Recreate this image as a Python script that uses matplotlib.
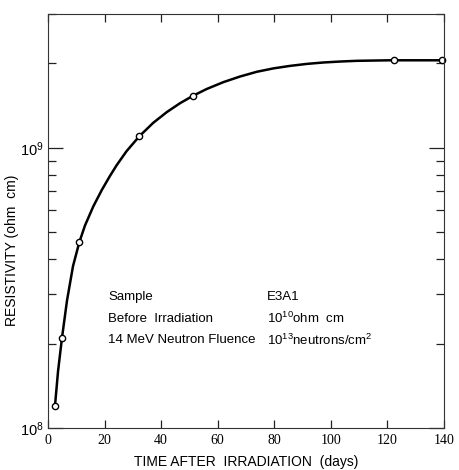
"""Resistivity recovery after 14 MeV neutron irradiation (sample E3A1)."""

import matplotlib

matplotlib.use("Agg")
import matplotlib.pyplot as plt
import numpy as np
from matplotlib import ticker

# measured points (open circles)
days = [2.47, 4.95, 11.07, 32.3, 51.2, 122.3, 139.3]
resistivity = [1.20e8, 2.10e8, 4.60e8, 1.10e9, 1.53e9, 2.05e9, 2.05e9]

# hand-drawn curve
curve_days = [2.47, 3.54, 4.95, 6.72, 8.84, 11.07, 13.08, 16.0, 19.0, 21.9,
              24.3, 27.8, 32.3, 37.2, 42.0, 46.7, 51.2, 56.1, 62.0, 67.9,
              73.8, 79.7, 85.6, 91.5, 97.3, 103.2, 109.1, 120.9, 122.3, 139.3]
curve_res = [1.20e8, 1.59e8, 2.10e8, 2.85e8, 3.78e8, 4.60e8, 5.28e8, 6.17e8,
             7.06e8, 7.93e8, 8.67e8, 9.73e8, 1.099e9, 1.227e9, 1.340e9,
             1.442e9, 1.531e9, 1.620e9, 1.714e9, 1.795e9, 1.866e9, 1.919e9,
             1.959e9, 1.991e9, 2.014e9, 2.030e9, 2.042e9, 2.051e9, 2.051e9,
             2.051e9]

x_ticks = [0, 20, 40, 60, 80, 100, 120, 140]
notes_left = ["Sample", "Before  Irradiation", "14 MeV Neutron Fluence"]
notes_right = ["E3A1", r"$\mathregular{10^{10}}$ohm  cm",
               r"$\mathregular{10^{13}}$neutrons/cm$\mathregular{^{2}}$"]

sans = ["Liberation Sans Narrow", "Liberation Sans", "DejaVu Sans"]
serif = ["Liberation Serif", "DejaVu Serif"]

fig = plt.figure(figsize=(4.6, 4.7), dpi=100)
ax = fig.add_axes([48 / 460, 42 / 470, 396 / 460, 414 / 470])

ax.plot(curve_days, curve_res, color="black", lw=1.8,
        solid_capstyle="round", solid_joinstyle="round")
ax.plot(days, resistivity, "o", ms=4.5, mfc="white", mec="black", mew=1.0, clip_on=False)

ax.set_yscale("log")
ax.set_xlim(0, 140)
ax.set_ylim(1e8, 3e9)

ax.set_xticks(x_ticks)
ax.set_xticklabels([str(t) for t in x_ticks], family=serif, fontsize=10)
ax.yaxis.set_major_locator(ticker.FixedLocator([1e8, 1e9]))
ax.yaxis.set_minor_locator(ticker.LogLocator(base=10, subs=np.arange(2, 10)))
ax.yaxis.set_minor_formatter(ticker.NullFormatter())
ax.set_yticklabels([r"$\mathregular{10^{8}}$", r"$\mathregular{10^{9}}$"],
                   family=sans, fontsize=10.5)

ax.tick_params(axis="both", which="both", direction="in", top=True, right=True,
               color="#222222", width=0.9)
ax.tick_params(axis="x", which="major", length=6, pad=4)
ax.tick_params(axis="y", which="major", length=11, pad=3)
ax.tick_params(axis="y", which="minor", length=6)

for spine in ax.spines.values():
    spine.set_linewidth(0.8)
    spine.set_color("#333333")

ax.set_xlabel("TIME AFTER  IRRADIATION  (days)", family=sans, fontsize=10)
ax.xaxis.set_label_coords(0.5, -0.066)
ax.set_ylabel("RESISTIVITY (ohm  cm)", family=sans, fontsize=10)
ax.yaxis.set_label_coords(-0.072, 0.43)

for i, (left, right) in enumerate(zip(notes_left, notes_right)):
    y = 0.316 - i * 0.052
    ax.text(0.152, y, left, transform=ax.transAxes, family=sans, fontsize=9.5, va="center")
    ax.text(0.553, y, right, transform=ax.transAxes, family=sans, fontsize=9.5, va="center")

fig.savefig("out.png", dpi=100)
plt.close(fig)
